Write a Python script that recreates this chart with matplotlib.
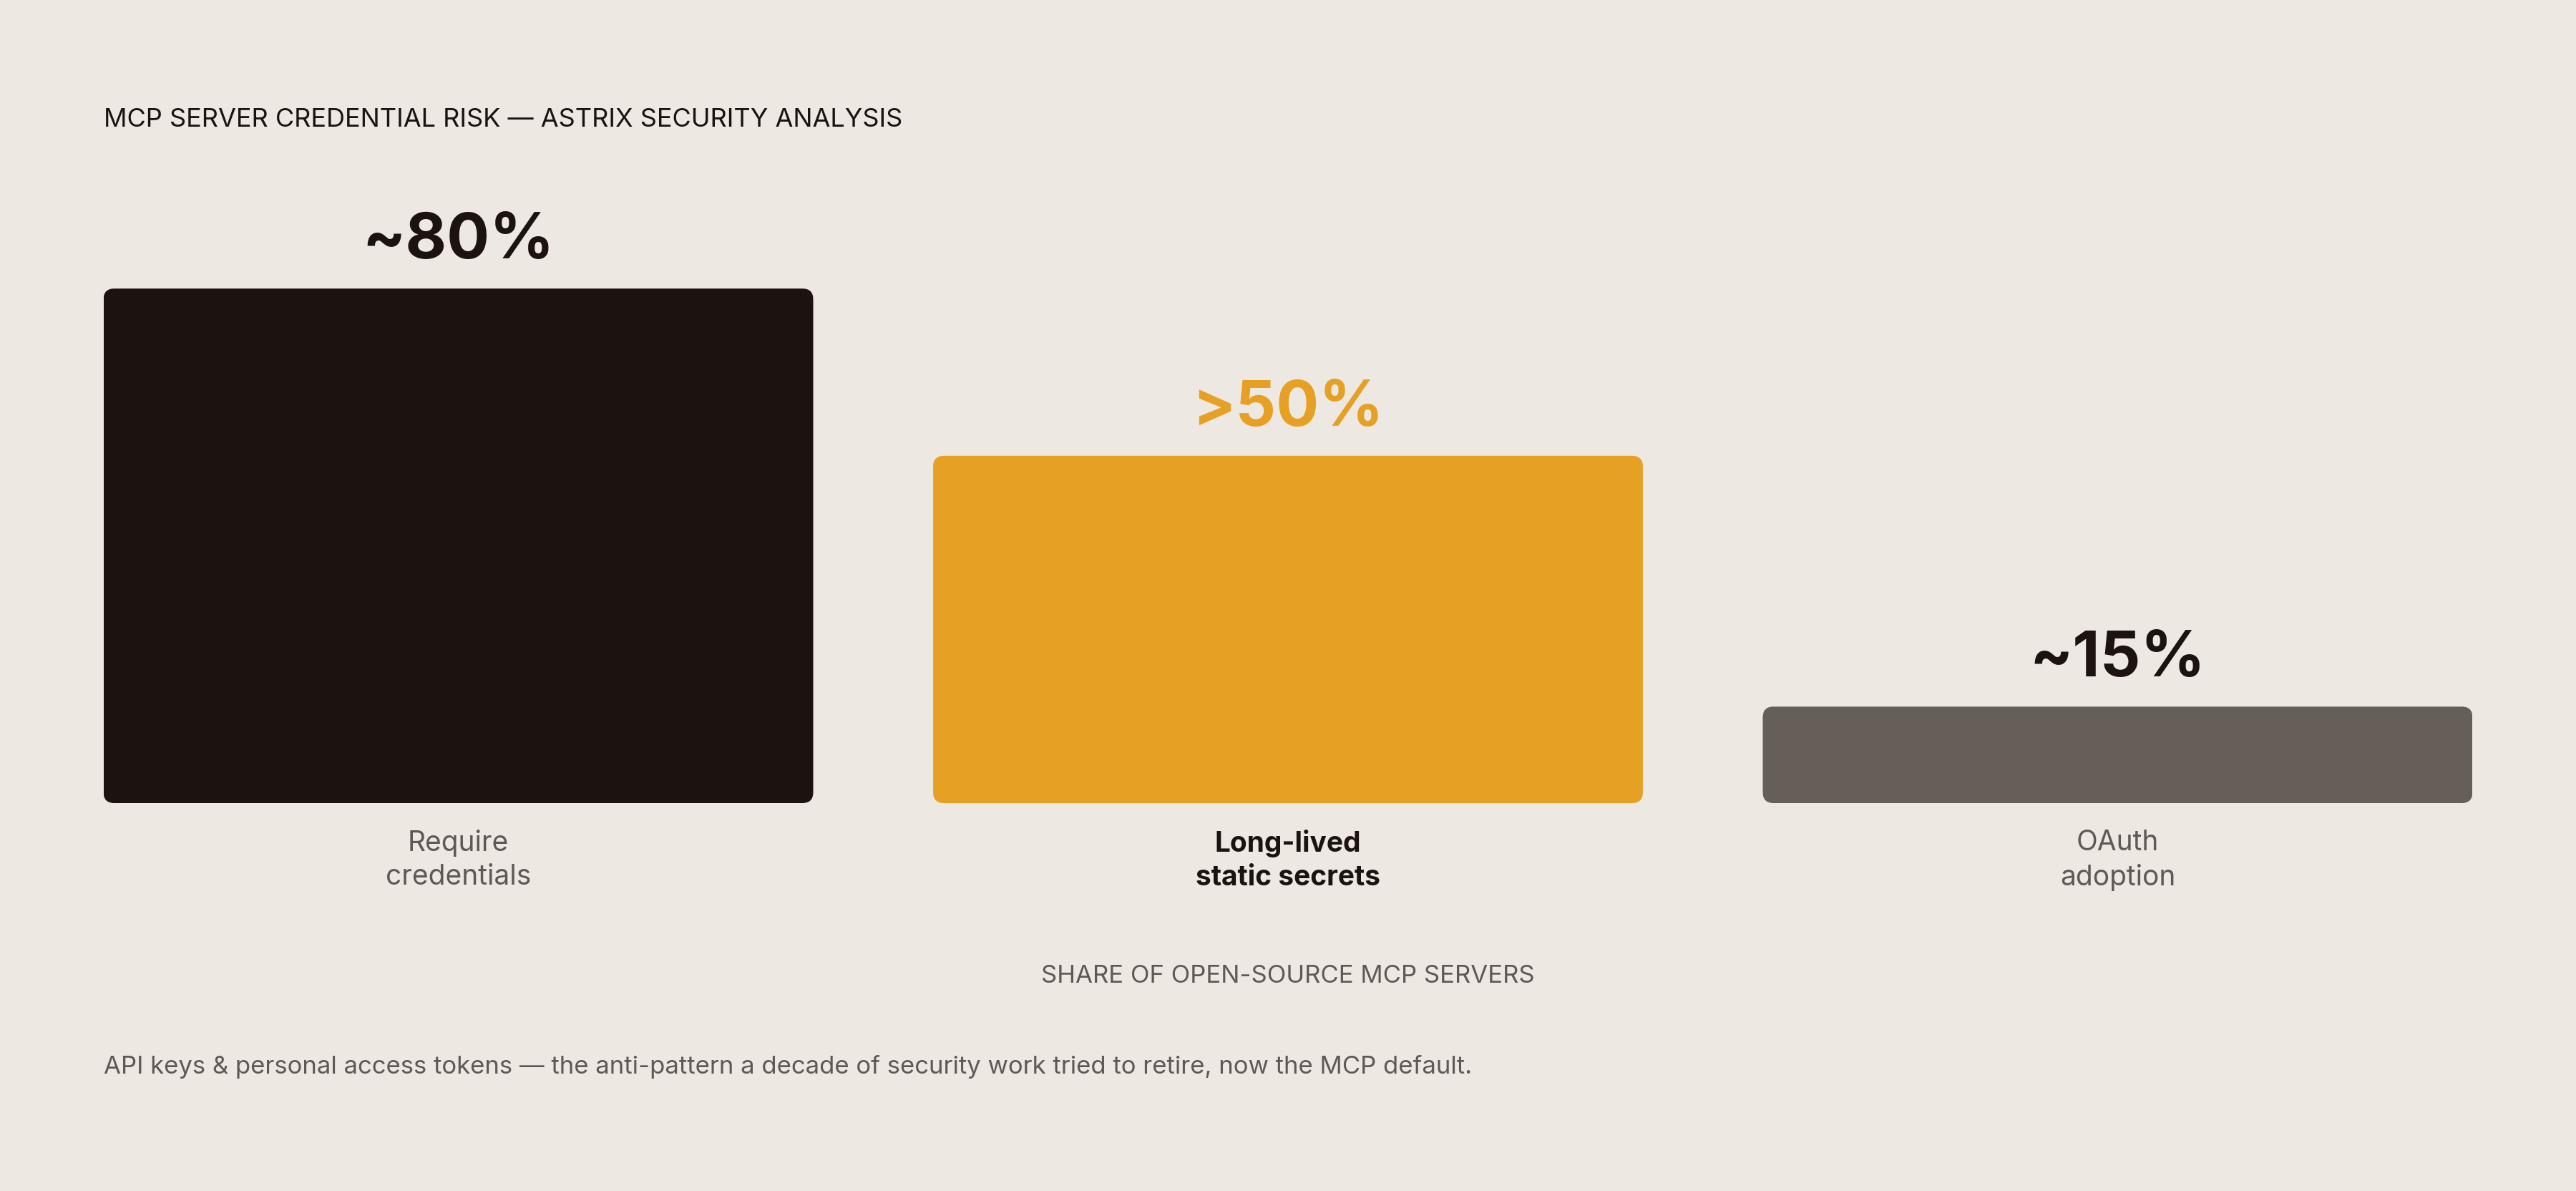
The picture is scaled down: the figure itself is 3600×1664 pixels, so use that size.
import matplotlib.pyplot as plt
from matplotlib.patches import FancyBboxPatch

plt.rcParams['font.family'] = ['Inter', 'DejaVu Sans']

BG = "#ede9e2"
DARK = "#1c1311"
GREY = "#5f5955"

categories = ["Require\ncredentials", "Long-lived\nstatic secrets", "OAuth\nadoption"]
values = [80, 54, 15]
value_labels = ["~80%", ">50%", "~15%"]
bar_colors = [DARK, "#e6a023", "#665e58"]
value_colors = [DARK, "#e6a023", DARK]
cat_colors = [GREY, DARK, GREY]
cat_weights = ["normal", "bold", "normal"]

W, H = 1568, 725  # layout grid of the reference (pixels)
fig = plt.figure(figsize=(36, 16.65), dpi=100, facecolor=BG)
ax = fig.add_axes([63 / W, 1 - 489 / H, (1505 - 63) / W, (489 - 176) / H])
ax.set_facecolor(BG)
width = 432 / 505
ax.set_xlim(-width / 2, 2 + width / 2)
ax.set_ylim(0, 80)
ax.axis("off")

for i, (v, c) in enumerate(zip(values, bar_colors)):
    ax.add_patch(FancyBboxPatch((i - width / 2, 0), width, v,
                                boxstyle="round,pad=0,rounding_size=0.013",
                                mutation_aspect=129, facecolor=c, edgecolor="none"))
    ax.annotate(value_labels[i], (i, v), xytext=(0, 31), textcoords="offset points",
                ha="center", va="baseline", fontsize=64, fontweight="bold",
                color=value_colors[i])
    ax.annotate(categories[i], (i, 0), xytext=(0, -26), textcoords="offset points",
                ha="center", va="top", fontsize=28, fontweight=cat_weights[i],
                color=cat_colors[i], linespacing=1.35)

fig.text(63 / W, 1 - 73 / H, "MCP SERVER CREDENTIAL RISK — ASTRIX SECURITY ANALYSIS",
         ha="left", va="center", fontsize=26, color=DARK)
fig.text(784 / W, 1 - 594 / H, "SHARE OF OPEN-SOURCE MCP SERVERS",
         ha="center", va="center", fontsize=25, color=GREY)
fig.text(63 / W, 1 - 649 / H,
         "API keys & personal access tokens — the anti-pattern a decade of security work tried to retire, now the MCP default.",
         ha="left", va="center", fontsize=25, color=GREY)

fig.savefig("out.png", dpi=100, facecolor=BG)
